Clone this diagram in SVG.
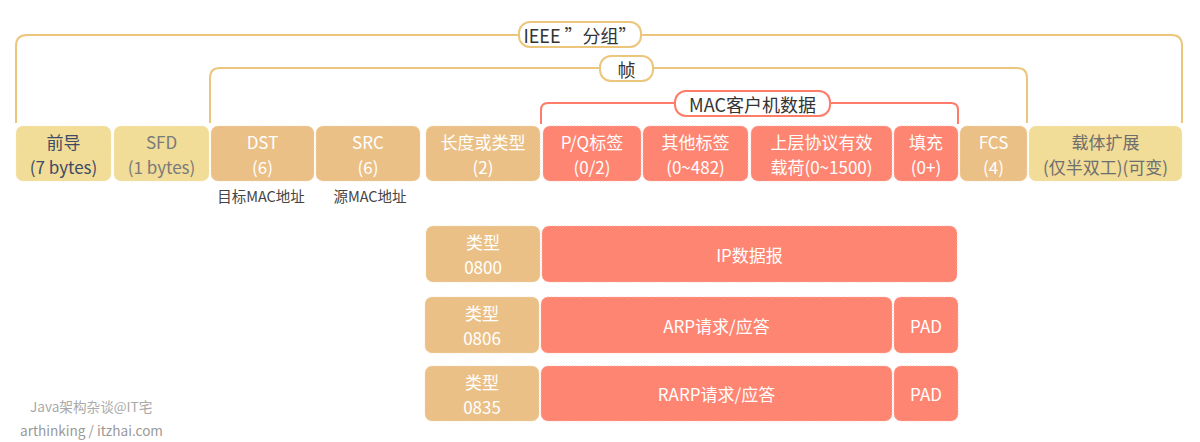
<svg xmlns="http://www.w3.org/2000/svg" width="1200" height="442" viewBox="0 0 1200 442">
<style>
text,tspan{font-family:"Noto Sans CJK SC","Noto Sans",sans-serif;text-anchor:middle;dominant-baseline:central}
.t{font-size:17px;fill:#ffffff}
.y{fill:#F1DC98;stroke:#F6E9BF;stroke-width:1;stroke-dasharray:1 2}
.n{fill:#EBC086;stroke:#F3D8B2;stroke-width:1;stroke-dasharray:1 2}
.r{fill:#FF8573;stroke:#FFB3A6;stroke-width:1;stroke-dasharray:1 2}
.by{fill:none;stroke:#EDC67E;stroke-width:2}
.br{fill:none;stroke:#FF7C6A;stroke-width:2}
.ly{fill:#ffffff;stroke:#EDC67E;stroke-width:2}
.lr{fill:#ffffff;stroke:#FF7C6A;stroke-width:2}
.lt{font-size:18px;fill:#333333}
.sub{font-size:14.5px;fill:#444444}
.wm{font-size:13.6px;text-anchor:start}
</style>
<rect width="1200" height="442" fill="#ffffff"/>
<g id="connectors">
<path class="by" d="M16,123 V46 Q16,35 27,35 H1172 Q1182,35 1182,46 V123"/>
<path class="by" d="M210,123 V78 Q210,68 220,68 H1017 Q1027,68 1027,78 V123"/>
<path class="br" d="M541,124 V110 Q541,103 548,103 H951 Q958,103 958,110 V124"/>
</g>
<g id="label-ieee"><rect class="ly" x="519" y="22" width="122" height="25" rx="11"/><text class="lt" x="580" y="34.5">IEEE ”分组”</text></g>
<g id="label-frame"><rect class="ly" x="600" y="56" width="53" height="25" rx="11"/><text class="lt" x="626.5" y="68.5">帧</text></g>
<g id="label-mac"><rect class="lr" x="675" y="91" width="155" height="25" rx="11"/><text class="lt" x="752.5" y="103.5">MAC客户机数据</text></g>

<g id="preamble"><rect class="y" x="16" y="126" width="95" height="55" rx="7"/><text class="t" style="fill:#3D4B66"><tspan x="63.5" y="141">前导</tspan><tspan x="63.5" y="166">(7 bytes)</tspan></text></g>
<g id="sfd"><rect class="y" x="114" y="126" width="95" height="55" rx="7"/><text class="t" style="fill:#7A7A7A"><tspan x="161.5" y="141">SFD</tspan><tspan x="161.5" y="166">(1 bytes)</tspan></text></g>
<g id="dst"><rect class="n" x="211" y="126" width="103" height="55" rx="7"/><text class="t"><tspan x="262.5" y="141">DST</tspan><tspan x="262.5" y="166">(6)</tspan></text></g>
<g id="src"><rect class="n" x="316" y="126" width="104" height="55" rx="7"/><text class="t"><tspan x="368" y="141">SRC</tspan><tspan x="368" y="166">(6)</tspan></text></g>
<g id="lentype"><rect class="n" x="426" y="126" width="114" height="55" rx="7"/><text class="t"><tspan x="483" y="141">长度或类型</tspan><tspan x="483" y="166">(2)</tspan></text></g>
<g id="pq"><rect class="r" x="543" y="126" width="98" height="55" rx="7"/><text class="t"><tspan x="592" y="141">P/Q标签</tspan><tspan x="592" y="166">(0/2)</tspan></text></g>
<g id="othertag"><rect class="r" x="643" y="126" width="105" height="55" rx="7"/><text class="t"><tspan x="695.5" y="141">其他标签</tspan><tspan x="695.5" y="166">(0~482)</tspan></text></g>
<g id="payload"><rect class="r" x="751" y="126" width="141" height="55" rx="7"/><text class="t"><tspan x="821.5" y="141">上层协议有效</tspan><tspan x="821.5" y="166">载荷(0~1500)</tspan></text></g>
<g id="pad"><rect class="r" x="894" y="126" width="64" height="55" rx="7"/><text class="t"><tspan x="926" y="141">填充</tspan><tspan x="926" y="166">(0+)</tspan></text></g>
<g id="fcs"><rect class="n" x="960" y="126" width="67" height="55" rx="7"/><text class="t"><tspan x="993.5" y="141">FCS</tspan><tspan x="993.5" y="166">(4)</tspan></text></g>
<g id="carrier"><rect class="y" x="1029" y="126" width="153" height="55" rx="7"/><text class="t" style="fill:#6E6E6E"><tspan x="1105.5" y="141">载体扩展</tspan><tspan x="1105.5" y="166">(仅半双工)(可变)</tspan></text></g>

<g id="dst-note"><text class="sub" x="261" y="195">目标MAC地址</text></g>
<g id="src-note"><text class="sub" x="370" y="195">源MAC地址</text></g>

<g id="row-ip">
<rect class="n" x="426" y="226" width="114" height="56" rx="7"/><text class="t"><tspan x="483" y="241">类型</tspan><tspan x="483" y="266">0800</tspan></text>
<rect class="r" x="542" y="226" width="415" height="56" rx="7"/><text class="t" x="749.5" y="254">IP数据报</text>
</g>
<g id="row-arp">
<rect class="n" x="425" y="297" width="114" height="56" rx="7"/><text class="t"><tspan x="482" y="312">类型</tspan><tspan x="482" y="337">0806</tspan></text>
<rect class="r" x="541" y="297" width="351" height="56" rx="7"/><text class="t" x="716.5" y="325">ARP请求/应答</text>
<rect class="r" x="894" y="297" width="64" height="56" rx="7"/><text class="t" x="926" y="325">PAD</text>
</g>
<g id="row-rarp">
<rect class="n" x="425" y="366" width="114" height="55" rx="7"/><text class="t"><tspan x="482" y="381">类型</tspan><tspan x="482" y="406">0835</tspan></text>
<rect class="r" x="541" y="366" width="351" height="55" rx="7"/><text class="t" x="716.5" y="393">RARP请求/应答</text>
<rect class="r" x="894" y="366" width="64" height="55" rx="7"/><text class="t" x="926" y="393">PAD</text>
</g>

<g id="watermark">
<text class="wm" x="30" y="406" style="fill:#AAAAAA">Java架构杂谈@IT宅</text>
<text class="wm" x="20" y="430" style="fill:#999999">arthinking / itzhai.com</text>
</g>
</svg>
